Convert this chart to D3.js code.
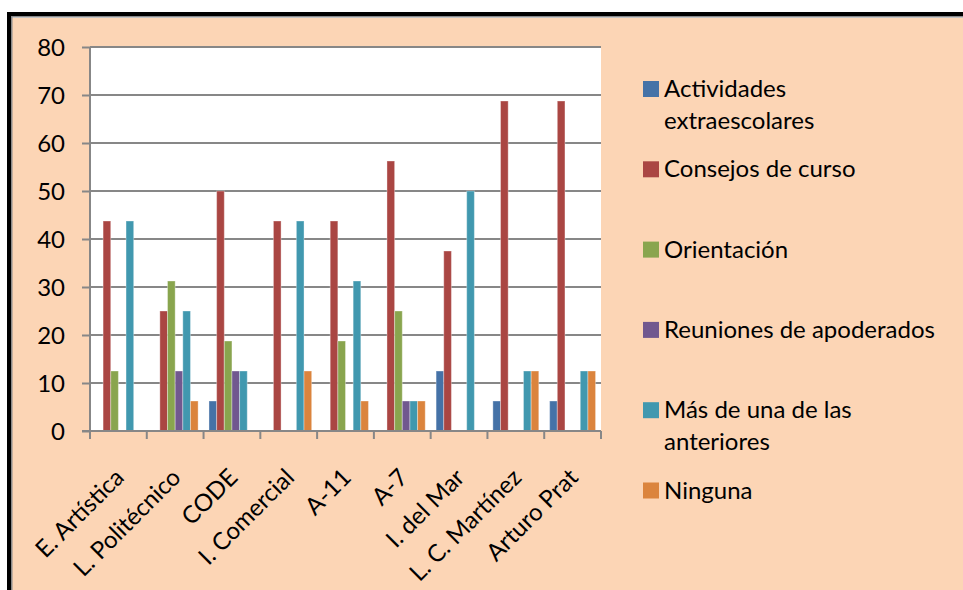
<!DOCTYPE html>
<html>
<head>
<meta charset="utf-8">
<script src="https://cdn.jsdelivr.net/npm/d3@7"></script>
<style>
  html, body { margin: 0; padding: 0; background: #ffffff; }
  svg { display: block; }
  text { font-family: Lato, "Open Sans", sans-serif; fill: #000; }
</style>
</head>
<body>
<svg id="chart" width="963" height="590"></svg>
<script>
// Schools (categories)
const schools = ["E. Artística", "L. Politécnico", "CODE", "I. Comercial", "A-11", "A-7", "I. del Mar", "L. C. Martínez", "Arturo Prat"];

// Series names (legend lines split where they wrap)
const seriesNames = ["Actividades extraescolares", "Consejos de curso", "Orientación", "Reuniones de apoderados", "Más de una de las anteriores", "Ninguna"];
const legendLines = [["Actividades", "extraescolares"], ["Consejos de curso"], ["Orientación"], ["Reuniones de apoderados"], ["Más de una de las", "anteriores"], ["Ninguna"]];
const seriesColors = ["#4572A7", "#AA4643", "#89A54E", "#71588F", "#4198AF", "#DB843D"];

// Percentages per series, one value per school
const actividades = [0, 0, 6.25, 0, 0, 0, 12.5, 6.25, 6.25];
const consejos    = [43.75, 25, 50, 43.75, 43.75, 56.25, 37.5, 68.75, 68.75];
const orientacion = [12.5, 31.25, 18.75, 0, 18.75, 25, 0, 0, 0];
const reuniones   = [0, 12.5, 12.5, 0, 0, 6.25, 0, 0, 0];
const masDeUna    = [43.75, 25, 12.5, 43.75, 31.25, 6.25, 50, 12.5, 12.5];
const ninguna     = [0, 6.25, 0, 12.5, 6.25, 6.25, 0, 12.5, 12.5];
const seriesValues = [actividades, consejos, orientacion, reuniones, masDeUna, ninguna];

const yTicks = [0, 10, 20, 30, 40, 50, 60, 70, 80];

const svg = d3.select("#chart");
const W = 963, H = 590;

// Frame: peach panel with a dark top/left edge
svg.append("rect").attr("x", 12).attr("y", 18).attr("width", W - 12).attr("height", H - 18).attr("fill", "#FCD5B5");
svg.append("rect").attr("x", 7).attr("y", 12).attr("width", W - 7).attr("height", 4).attr("fill", "#000");
svg.append("rect").attr("x", 7).attr("y", 12).attr("width", 4).attr("height", H - 12).attr("fill", "#000");
svg.append("rect").attr("x", 11).attr("y", 16).attr("width", W - 11).attr("height", 1.5).attr("fill", "#8a8a8a");
svg.append("rect").attr("x", 11).attr("y", 16).attr("width", 1.5).attr("height", H - 16).attr("fill", "#8a8a8a");

const plot = { left: 90, top: 47, right: 601, bottom: 431 };

const x0 = d3.scaleBand().domain(schools).range([plot.left, plot.right]).paddingInner(0).paddingOuter(0);
const x1 = d3.scaleBand().domain(d3.range(seriesNames.length)).range([0, x0.bandwidth()]).paddingOuter(0.71).paddingInner(0);
const y = d3.scaleLinear().domain([0, 80]).range([plot.bottom, plot.top]);

// Plot area
svg.append("rect").attr("x", plot.left).attr("y", plot.top)
  .attr("width", plot.right - plot.left).attr("height", plot.bottom - plot.top).attr("fill", "#fff");

// Gridlines
svg.append("g").selectAll("line").data(yTicks.filter(t => t > 0)).join("line")
  .attr("x1", plot.left).attr("x2", plot.right)
  .attr("y1", d => y(d)).attr("y2", d => y(d))
  .attr("stroke", "#878787").attr("stroke-width", 2);

// Bars
const groups = svg.append("g").selectAll("g").data(schools).join("g")
  .attr("transform", d => `translate(${x0(d)},0)`);
groups.selectAll("rect")
  .data((d, i) => seriesValues.map((vals, s) => ({ s, v: vals[i] })).filter(e => e.v > 0))
  .join("rect")
  .attr("x", d => x1(d.s))
  .attr("y", d => y(d.v))
  .attr("width", x1.bandwidth())
  .attr("height", d => y(0) - y(d.v))
  .attr("fill", d => seriesColors[d.s])
  .attr("stroke", "rgba(255,255,255,0.35)")
  .attr("stroke-width", 1);

// Y axis
const yAxis = d3.axisLeft(y).tickValues(yTicks).tickSize(8).tickPadding(17).tickFormat(d3.format("d"));
const gy = svg.append("g").attr("transform", `translate(${plot.left},0)`).call(yAxis);
gy.select(".domain").attr("stroke", "#878787").attr("stroke-width", 2).attr("d", `M0,${plot.top}V${plot.bottom}`);
gy.selectAll(".tick line").attr("stroke", "#878787").attr("stroke-width", 2);
gy.selectAll(".tick text").attr("font-size", 24).attr("font-family", "Lato, sans-serif").attr("fill", "#000").attr("dy", "0.35em");

// X axis line and category boundary ticks
const gx = svg.append("g");
gx.append("line").attr("x1", plot.left - 8).attr("x2", plot.right).attr("y1", plot.bottom).attr("y2", plot.bottom)
  .attr("stroke", "#878787").attr("stroke-width", 2);
const bounds = schools.map(s => x0(s)).concat([plot.right]);
gx.selectAll("line.tk").data(bounds).join("line").attr("class", "tk")
  .attr("x1", d => d).attr("x2", d => d).attr("y1", plot.bottom).attr("y2", plot.bottom + 8)
  .attr("stroke", "#878787").attr("stroke-width", 2);

// Rotated category labels
gx.selectAll("text").data(schools).join("text")
  .attr("transform", d => `translate(${x0(d) + x0.bandwidth() / 2 + 7},${plot.bottom + 48}) rotate(-45)`)
  .attr("text-anchor", "end")
  .attr("font-size", 24)
  .text(d => d);

// Legend
const legendTop = 97;
const legendStep = 80.3;
const lg = svg.append("g");
legendLines.forEach((lines, i) => {
  const base = legendTop + i * legendStep;
  lg.append("rect").attr("x", 643).attr("y", base - 16).attr("width", 16).attr("height", 16).attr("fill", seriesColors[i]);
  lines.forEach((ln, j) => {
    lg.append("text").attr("x", 664).attr("y", base + j * 32).attr("font-size", 24).text(ln);
  });
});
</script>
</body>
</html>
